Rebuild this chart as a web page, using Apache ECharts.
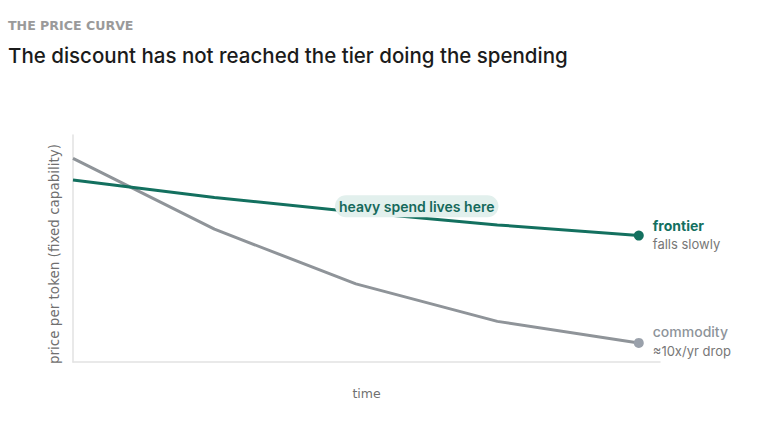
<!DOCTYPE html>
<html>
<head>
<meta charset="utf-8">
<script src="https://cdn.jsdelivr.net/npm/echarts@6/dist/echarts.min.js"></script>
<style>
  html, body { margin: 0; padding: 0; background: #fff; }
  #chart { width: 766px; height: 422px; }
</style>
</head>
<body>
<div id="chart"></div>
<script>
// time steps along the x axis (no tick labels shown)
var steps = [0, 1, 2, 3, 4];
// relative price per token (0-100 scale)
var frontier = [80.2, 72.5, 66.1, 60.4, 55.7];
var commodity = [89.7, 58.5, 34.4, 17.9, 8.4];
// where the annotation pill sits
var notePos = [2.43, 68.6];
var noteText = 'heavy spend lives here';

function pairs(vals) {
  var out = [];
  for (var i = 0; i < vals.length; i++) {
    out.push([steps[i], vals[i]]);
  }
  return out;
}

var teal = '#13705f';
var grey = '#8f9499';

var myChart = echarts.init(document.getElementById('chart'), null, { renderer: 'svg' });

var option = {
  backgroundColor: '#fff',
  animation: false,
  textStyle: { fontFamily: 'Inter' },
  title: [
    {
      text: 'THE PRICE CURVE',
      left: 8, top: 18.5, padding: 0,
      textStyle: { fontFamily: 'DejaVu Sans', fontSize: 12.6, fontWeight: 'bold', color: '#9a9a9a' }
    },
    {
      text: 'The discount has not reached the tier doing the spending',
      left: 8, top: 44.5, padding: 0,
      textStyle: { fontFamily: 'Inter', fontSize: 20.5, fontWeight: 500, color: '#1b1b1b' }
    }
  ],
  grid: { left: 73, right: 106, top: 135, bottom: 60 },
  xAxis: {
    type: 'value',
    min: 0, max: 4.15,
    name: 'time',
    nameLocation: 'middle',
    nameGap: 25,
    nameTextStyle: { fontFamily: 'DejaVu Sans', color: '#707070', fontSize: 12.5 },
    axisLine: { show: true, lineStyle: { color: '#e2e2e2', width: 1.5 } },
    axisTick: { show: false },
    axisLabel: { show: false },
    splitLine: { show: false }
  },
  yAxis: {
    type: 'value',
    min: 0, max: 100,
    name: 'price per token (fixed capability)',
    nameLocation: 'middle',
    nameGap: 12,
    nameTextStyle: { fontFamily: 'DejaVu Sans', color: '#707070', fontSize: 13.5, padding: [0, 11, 0, 0] },
    axisLine: { show: true, lineStyle: { color: '#e2e2e2', width: 1.5 } },
    axisTick: { show: false },
    axisLabel: { show: false },
    splitLine: { show: false }
  },
  series: [
    {
      name: 'commodity',
      type: 'line',
      data: pairs(commodity),
      symbol: 'none',
      lineStyle: { color: grey, width: 3 },
      markPoint: {
        symbol: 'circle', symbolSize: 10,
        itemStyle: { color: '#9aa1ab' },
        label: { show: false },
        data: [{ coord: [steps[4], commodity[4]] }]
      },
      endLabel: {
        show: true,
        distance: 14,
        offset: [0, -1.5],
        formatter: '{a|commodity}\n{b|≈10x/yr drop}',
        rich: {
          a: { fontFamily: 'Inter', fontSize: 14, fontWeight: 500, color: '#8e949a', lineHeight: 19 },
          b: { fontFamily: 'Inter', fontSize: 13, color: '#777', lineHeight: 19 }
        }
      },
      z: 2
    },
    {
      name: 'frontier',
      type: 'line',
      data: pairs(frontier),
      symbol: 'none',
      lineStyle: { color: teal, width: 3 },
      markPoint: {
        symbol: 'circle', symbolSize: 10,
        itemStyle: { color: teal },
        label: { show: false },
        data: [
          { coord: [steps[4], frontier[4]] },
          {
            coord: notePos,
            symbolSize: 0,
            label: {
              show: true,
              position: 'inside',
              formatter: noteText,
              fontFamily: 'Inter',
              fontSize: 14,
              fontWeight: 600,
              color: '#16695b',
              backgroundColor: '#e2f0ed',
              borderRadius: 11,
              padding: [4, 4, 4, 4]
            }
          }
        ]
      },
      endLabel: {
        show: true,
        distance: 14,
        offset: [0, -1],
        formatter: '{a|frontier}\n{b|falls slowly}',
        rich: {
          a: { fontFamily: 'Inter', fontSize: 14, fontWeight: 'bold', color: teal, lineHeight: 19 },
          b: { fontFamily: 'Inter', fontSize: 13, color: '#777', lineHeight: 19 }
        }
      },
      z: 3
    }
  ]
};

myChart.setOption(option);
</script>
</body>
</html>
